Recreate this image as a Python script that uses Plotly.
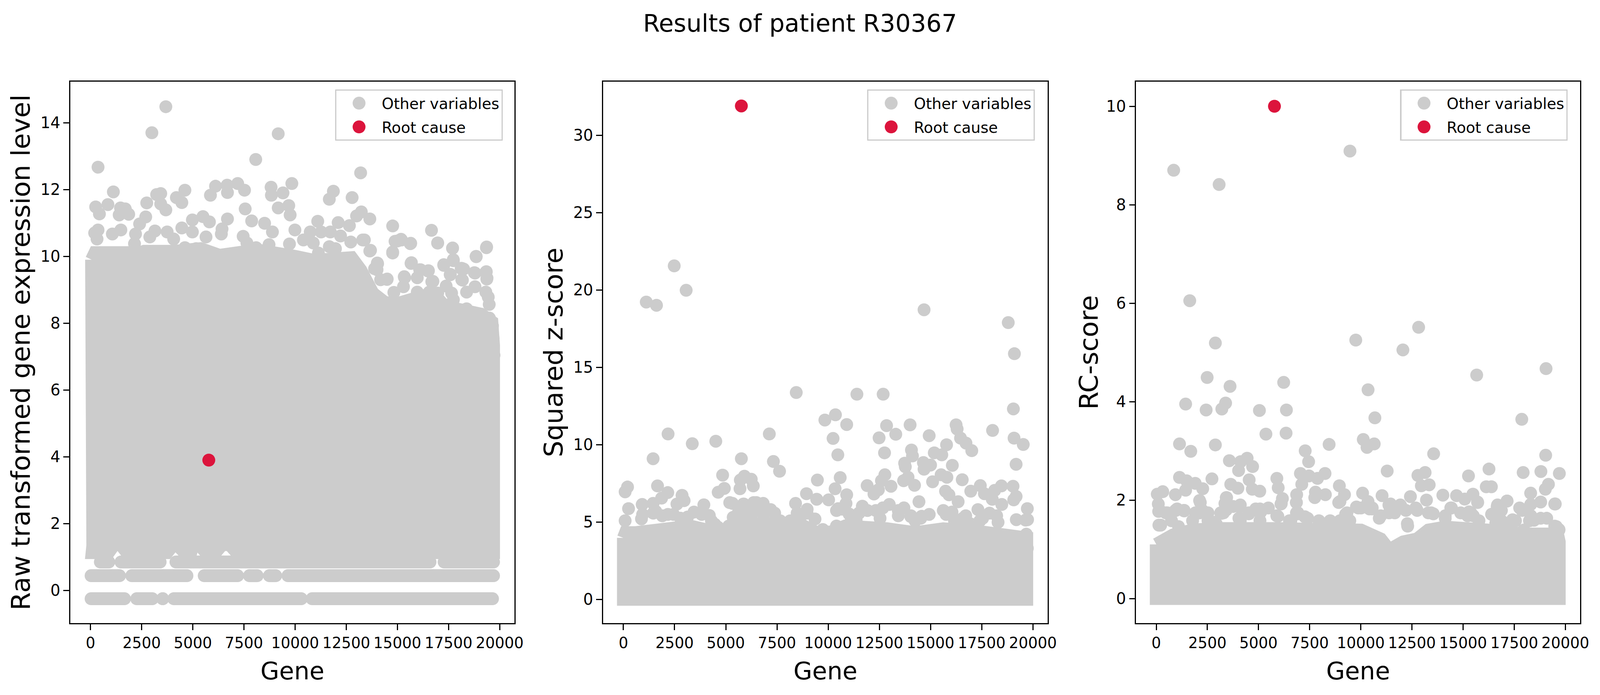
import plotly.graph_objects as go

TITLE = "Results of patient R30367"
X_TICKS = [0, 2500, 5000, 7500, 10000, 12500, 15000, 17500, 20000]
Y_TITLES = ["Raw transformed gene expression level", "Squared z-score", "RC-score"]
Y_TICKS = [[0, 2, 4, 6, 8, 10, 12, 14], [0, 5, 10, 15, 20, 25, 30], [0, 2, 4, 6, 8, 10]]
SERIES_NAMES = ["Other variables", "Root cause"]

ROOT_X = [5780, 5761, 5778]
ROOT_Y = [3.9, 31.9, 10.0]

# Panel 1: separated genes
P1_X = [3680,2997,9174,8075,366,13203,9840,7193,6110,6677,4612,8825,11871,1115,3430,3230,7526,5861,8841,9407,6693,12787,11672,4196,4462,2747,849,250,433,1465,1698,1865,1399,3430,3680,7560,9174,9690,9757,13237,13004,13653,2697,4978,5495,5811,6693,8508,7876,11106,12105,12654,14769,16667,16966,15202,15651,14885,14769,17699,19364,18848,17732,17266,18149,14019,15685,16134,16517,18765,19347,19381,18149,17582,14502,15335,16683,13886,13686,10739,10406,11272,11722,12221,9990,8891,6427,7460,3746,3147,2897,4462,4978,2198,2148,200,366,316,1066,1482,2398,4063,5644,6394,7643,8092,8725,9724,10889,12721,13303,11672,11972,11139,4612,5162,
      13386,13651,14033,14004,14180,14492,14768,15003,15179,15632,16972,17696,17737,17267,18854,19353,15667,16091,16502,15356,15297,14827,15973,16737,17590,18119,18237,18178,17384,17649,17737,18383,18795,19324,19371,19324,19442,19489,19500,19648,19677,19724,18795,16972,16561,15973,15326,18383]
P1_Y = [14.48,13.7,13.67,12.9,12.67,12.5,12.18,12.18,12.1,12.13,11.98,12.07,11.95,11.93,11.88,11.85,11.98,11.83,11.83,11.9,11.91,11.76,11.71,11.76,11.61,11.6,11.55,11.48,11.27,11.45,11.42,11.26,11.24,11.57,11.39,11.42,11.45,11.52,11.24,11.33,11.21,11.12,11.18,11.09,11.19,11.03,11.12,10.99,11.06,11.05,11.01,10.92,10.91,10.78,10.4,10.49,10.39,10.45,10.13,10.25,10.28,10.0,9.9,9.75,9.64,9.8,9.81,9.6,9.57,9.51,9.54,9.35,9.3,9.45,9.32,9.39,9.24,9.63,10.18,10.73,10.49,10.73,10.73,10.61,10.79,10.73,10.82,10.6,10.73,10.76,10.58,10.85,10.73,10.67,10.38,10.7,10.79,10.52,10.67,10.79,10.97,10.52,10.58,10.67,10.4,10.26,10.35,10.37,10.4,10.43,10.49,10.29,10.23,10.1,10.26,10.23,
      10.49,10.16,9.78,9.6,9.3,9.31,10.1,10.46,10.51,10.38,10.4,10.24,9.87,9.73,9.99,10.26,9.79,9.6,9.56,9.36,9.09,8.92,9.36,9.25,9.46,9.64,9.62,9.29,9.11,8.9,8.7,8.93,9.5,9.52,9.32,8.93,8.78,8.56,8.15,7.92,7.55,7.04,9.09,8.9,8.93,8.93,8.58,8.43]
P1_CLOUD_X = [50,123,215,2429,2614,4089,5381,6303,8148,9993,10915,12760,13210,13798,14386,14974,15562,16737,17325,17913,18501,19089,19618,19700,19700,16600,7150,6800,6430,6100,5650,5300,5000,4900,4600,4225,4050,3735,1783,1470,1155,877,75,110,110,75,110,60,100,75,90,30,30,50,83,50]
P1_CLOUD_Y = [9.9,9.99,10.11,10.11,10.15,10.15,10.23,10.03,10.19,10.0,9.88,9.96,9.59,8.9,8.62,8.58,8.66,8.9,8.5,8.39,8.31,8.27,8.04,7.34,1.13,1.13,1.13,1.37,1.37,1.13,1.13,1.37,1.37,1.13,1.13,1.37,1.37,1.13,1.13,1.37,1.37,1.13,1.13,1.34,1.7,2.06,2.59,3.2,3.7,3.9,4.5,5.0,7.0,8.6,9.4,9.9]
P1_ROW_X = [479,891,None,1490,3401,None,4175,16595,None,17285,19700,None,
            26,1414,None,2013,4712,None,5556,7188,None,7767,8144,None,8743,9050,None,9650,19700,None,
            26,1658,None,2257,3018,None,3527,3527,None,4071,10300,None,10830,19650]
P1_ROW_Y = [0.85,0.85,None,0.85,0.85,None,0.85,0.85,None,0.85,0.85,None,
            0.44,0.44,None,0.44,0.44,None,0.44,0.44,None,0.44,0.44,None,0.44,0.44,None,0.44,0.44,None,
            -0.25,-0.25,None,-0.25,-0.25,None,-0.25,-0.25,None,-0.25,-0.25,None,-0.25,-0.25]

# Panel 2
P2_X = [2481,3064,1116,1615,14685,18798,19098,8442,11405,12687,19048,10356,9840,10906,12854,14003,16250,16300,18032,7126,2181,13303,14935,12488,10240,16467,19081,4512,3363,16733,15784,19530,17016,14069,14119,15185,15551,10473,12754,1449,5761,7326,7626,14652,15002,14685,13736,13770,16067,19181,4845,5911,12771,15518,15801,13903,10589,6244,9474,16550,5711,12604,13686,15102,6344,1665,11905,200,14219,13070,19031,18465,17433,10340,5694,4928,12454,15734,16967,83,2165,4629,18132,2864,8941,10906,17632,12238,19181,15901,2964,1865,9441,10023,14436,16350,19065,18015,6361,1449,5328,5861,6827,8408,916,2614,3929,10873,11671,12987,18482,250,10489,7193,8974,19730,17316,3447,1582,11022,17882,16050,4196,882,5361,14569,11239,14036,83,9357,19647,4462,4612,5145,10406,16933,9740,19680,19730,
      2173,2790,5398,6839,7731,8143,8624,11368,14251,15624,16241,16721,18300,17408,14045,13427,12329,12535,11094,5604,6359,6084,7388,6702,6153,5192,5878,6496,
      938,1459,1898,2447,3134,3820,4300,5398,6085,7114,7663,8486,8967,10408,10682,11163,11506,11918,12672,13427,13702,14525,14937,15760,16172,16584,17545,18231,19192,19741]
P2_Y = [21.56,19.98,19.22,19.01,18.72,17.89,15.88,13.37,13.26,13.26,12.31,11.93,11.59,11.3,11.23,11.28,11.28,11.01,10.92,10.69,10.69,10.67,10.58,10.44,10.4,10.42,10.42,10.22,10.06,10.1,9.99,10.01,9.61,9.65,9.27,9.47,9.34,9.34,9.47,9.09,9.09,8.91,8.28,8.84,8.68,8.41,8.8,8.57,8.66,8.73,8.03,7.96,8.05,8.05,7.89,7.89,7.87,7.76,7.71,7.73,7.71,7.67,7.67,7.6,7.33,7.33,7.35,7.26,7.37,7.31,7.31,7.33,7.35,7.15,7.15,7.17,7.08,6.99,6.99,6.95,6.9,6.92,7.04,6.72,6.83,6.76,6.83,6.81,6.65,6.76,6.38,6.54,6.47,6.43,6.31,6.31,6.43,6.47,6.25,6.2,6.2,6.16,6.2,6.2,6.13,6.16,6.11,6.2,6.02,6.13,6.13,5.86,5.86,5.8,5.82,5.86,5.8,5.64,5.68,5.52,5.57,5.64,5.42,5.2,5.3,5.37,5.23,5.35,5.08,5.19,5.12,4.85,4.67,4.74,4.74,4.89,4.51,4.21,3.3,
      5.49,5.24,5.07,5.49,4.98,5.07,5.03,5.15,5.07,5.74,5.07,5.4,4.98,5.07,5.4,5.74,5.74,5.24,4.98,5.57,5.66,5.57,5.57,5.91,5.99,6.25,6.16,6.25,
      5.49,5.57,5.4,5.49,5.32,5.49,5.07,5.24,5.4,5.74,5.07,5.57,5.57,5.74,5.83,5.4,5.57,5.74,5.91,5.4,5.91,5.24,5.49,5.49,5.07,5.24,5.24,5.4,5.15,5.15]
P2_CLOUD_X = [0,100,600,1100,1900,3270,3960,4850,5050,6000,7390,8760,9450,10130,10820,11500,12880,14250,15620,17000,18370,19350,19700,19700,0,0]
P2_CLOUD_Y = [3.97,4.31,4.31,4.39,4.69,4.73,4.52,3.89,4.56,4.9,4.9,4.77,4.31,4.35,4.73,4.73,4.56,4.31,4.56,4.44,4.23,4.23,3.97,0,0,3.97]

# Panel 3
P3_X = [9469,852,3073,1637,12826,9753,2889,12057,19055,15665,6229,2488,3607,10354,1436,3390,3206,2438,5043,6363,10688,17869,5361,6346,10120,8450,10655,10304,1136,2889,1687,7281,13560,19038,7448,3574,4442,4125,4709,4025,11289,16266,7047,8250,17936,18804,19706,13143,12792,15264,7465,1136,1486,5895,7882,2722,4542,1904,3641,7114,8951,19172,16133,16383,12959,13343,2271,3991,5962,1436,317,4693,5060,7782,19021,50,935,3440,6864,10087,8267,9202,11039,12425,14011,14679,15481,13210,18303,15080,15715,2154,100,3357,4075,6112,6847,7749,8918,11373,11957,17151,19506,16683,18303,12709,14429,15381,935,1353,2438,1937,117,3190,4526,5110,5945,6914,9285,9786,10538,13544,16416,17886,17418,18470,19088,217,19556,19689,2939,12291,
      540,1020,1363,2118,3285,4040,4520,5069,5892,6510,6922,7402,7951,8500,8980,9255,9873,10421,10970,11657,12275,12686,13441,14127,14402,15226,15775,16461,16941,17422,17970,18314,19480,19686,
      197,128,471,952,1363,2255,2530,1912,1089,746,2118,3765,4108,3148,3422,3422,6167,6098,6853,8981,10353,11451,11932,12686,15706,14402,15294,16392,16667,17147,16873,17765,18794,19480,9324,10010,10559,5481,4863,5069,4108,6853,7265,6579,8638,9461,10902,11383,12206,12755,13304,14127,14882,15500,16873,17559,18794,18245,16598,1775,2873,5069,2530]
P3_Y = [9.09,8.7,8.41,6.05,5.51,5.25,5.19,5.05,4.67,4.54,4.39,4.49,4.31,4.24,3.95,3.97,3.85,3.83,3.82,3.83,3.67,3.64,3.34,3.36,3.23,3.13,3.14,3.07,3.14,3.12,2.99,3.0,2.94,2.91,2.78,2.8,2.85,2.78,2.68,2.6,2.59,2.63,2.54,2.54,2.56,2.58,2.54,2.56,2.5,2.49,2.49,2.46,2.39,2.44,2.44,2.43,2.41,2.34,2.32,2.32,2.29,2.32,2.27,2.27,2.29,2.31,2.23,2.24,2.25,2.2,2.17,2.22,2.18,2.16,2.22,2.12,2.11,2.05,2.11,2.14,2.11,2.11,2.09,2.07,2.1,2.09,2.12,2.0,2.14,2.02,1.95,1.95,1.92,1.93,1.86,1.93,1.95,2.05,1.95,1.9,1.88,1.98,1.92,1.9,1.91,1.83,1.84,1.74,1.79,1.79,1.73,1.72,1.77,1.73,1.72,1.76,1.67,1.72,1.71,1.86,1.82,1.72,1.71,1.79,1.6,1.59,1.63,1.49,1.46,1.4,1.51,1.47,
      1.74,1.82,1.79,1.74,1.74,1.63,1.74,1.82,1.68,1.58,1.74,1.63,1.58,1.58,1.58,1.71,1.84,1.82,1.68,1.74,1.52,1.82,1.74,1.68,1.84,1.68,1.58,1.71,1.55,1.55,1.39,1.68,1.47,1.39,
      1.78,1.49,1.74,1.79,1.78,1.79,1.74,1.74,1.46,1.58,1.99,1.87,1.9,1.74,1.8,2.05,2.03,1.92,1.95,1.97,1.97,1.92,1.9,1.84,1.96,1.84,1.76,1.71,1.87,1.98,1.79,1.84,1.96,1.92,1.74,1.84,1.84,1.84,1.82,1.74,1.58,1.74,1.66,1.58,1.53,1.58,1.63,1.74,1.79,1.79,1.74,1.63,1.74,1.68,1.58,1.58,1.63,1.58,1.53,1.58,1.55,1.58,1.58]
P3_CLOUD_X = [0,814,1775,2873,5892,8638,10010,10970,11383,12069,12755,13304,14127,16873,17970,19618,19700,19700,0,0]
P3_CLOUD_Y = [1.1,1.29,1.39,1.42,1.42,1.42,1.39,1.21,0.99,1.15,1.21,1.39,1.45,1.37,1.31,1.31,1.15,0,0,1.1]

POINTS_X = [P1_X, P2_X, P3_X]
POINTS_Y = [P1_Y, P2_Y, P3_Y]
CLOUDS_X = [P1_CLOUD_X, P2_CLOUD_X, P3_CLOUD_X]
CLOUDS_Y = [P1_CLOUD_Y, P2_CLOUD_Y, P3_CLOUD_Y]

# Layout: the browser window is 4096 wide, so reference x pixels are scaled by the domain fractions.
W_REF, W, H = 4435, 4096, 1779
GRAY, RED = "#CCCCCC", "#DC143C"
MS = 33
FONT = "DejaVu Sans"
PANELS_PX = [(195, 1426), (1672, 2904), (3149, 4380)]
TOP_PX, BOTTOM_PX = 209, 1595
X_RANGE = [-988, 20723]
Y_RANGES = [[-0.98, 15.23], [-1.54, 33.47], [-0.5, 10.5]]
LEGEND_LEFT_PX = [929, 2404, 3881]
STANDOFF_Y = [6, 6, 0]

fig = go.Figure()
for i in range(3):
    suf = "" if i == 0 else str(i + 1)
    xa, ya = "x" + suf, "y" + suf
    lg = "legend" + suf
    fig.add_trace(go.Scatter(x=CLOUDS_X[i], y=CLOUDS_Y[i], mode="lines", fill="toself", fillcolor=GRAY,
                             line=dict(color=GRAY, width=MS), showlegend=False, hoverinfo="skip",
                             xaxis=xa, yaxis=ya, name="Other variables (dense)"))
    if i == 0:
        fig.add_trace(go.Scatter(x=P1_ROW_X, y=P1_ROW_Y, mode="lines+markers",
                                 marker=dict(color=GRAY, size=MS, line=dict(width=0)),
                                 line=dict(color=GRAY, width=MS), showlegend=False, hoverinfo="skip",
                                 xaxis=xa, yaxis=ya, name="Other variables (rows)"))
    fig.add_trace(go.Scatter(x=POINTS_X[i], y=POINTS_Y[i], mode="markers", name=SERIES_NAMES[0],
                             marker=dict(color=GRAY, size=MS, line=dict(width=0)),
                             xaxis=xa, yaxis=ya, legend=lg, legendgroup=f"other{i}"))
    fig.add_trace(go.Scatter(x=[ROOT_X[i]], y=[ROOT_Y[i]], mode="markers", name=SERIES_NAMES[1],
                             marker=dict(color=RED, size=MS, line=dict(width=0)),
                             xaxis=xa, yaxis=ya, legend=lg, legendgroup=f"root{i}"))
    l, r = PANELS_PX[i]
    common = dict(showgrid=False, zeroline=False, showline=True, mirror=True, linecolor="black", linewidth=3.2,
                  ticks="outside", ticklen=14.6, tickwidth=3.2, tickcolor="black", automargin=False)
    fig.update_layout({
        "xaxis" + suf: dict(domain=[l / W_REF, r / W_REF], anchor=ya, range=X_RANGE, tickmode="array",
                            tickvals=X_TICKS, ticktext=[str(v) for v in X_TICKS], tickangle=0,
                            tickfont=dict(family=FONT, size=38.5, color="black"),
                            title=dict(text="Gene", font=dict(family=FONT, size=62, color="black"), standoff=29), **common),
        "yaxis" + suf: dict(domain=[1 - BOTTOM_PX / H, 1 - TOP_PX / H], anchor=xa, range=Y_RANGES[i], tickmode="array",
                            tickvals=Y_TICKS[i], ticktext=[str(v) for v in Y_TICKS[i]],
                            tickfont=dict(family=FONT, size=40, color="black"),
                            title=dict(text=Y_TITLES[i], font=dict(family=FONT, size=66.7, color="black"), standoff=STANDOFF_Y[i]), **common),
        lg: dict(x=LEGEND_LEFT_PX[i] / W_REF, y=1 - 229 / H, xanchor="left", yanchor="top",
                 bgcolor="rgba(255,255,255,0.8)", bordercolor="#CCCCCC", borderwidth=3.2,
                 itemwidth=106, itemsizing="trace", font=dict(family=FONT, size=39, color="black"),
                 traceorder="grouped", tracegroupgap=7, entrywidth=315, entrywidthmode="pixels"),
    })

fig.update_layout(
    width=W, height=H, margin=dict(l=0, r=0, t=0, b=0), autosize=False,
    paper_bgcolor="white", plot_bgcolor="white",
    title=dict(text=TITLE, x=0.5, xref="paper", xanchor="center", y=1 - 59 / H, yanchor="middle",
               font=dict(family=FONT, size=62, color="black")),
    showlegend=True,
)

# Plotly caps legend glyphs at 16 px, so scale them up to the marker size of the plot.
POST = """
document.body.style.margin = '0';
document.querySelectorAll('.legendpoints path').forEach(function (p) {
  var t = p.getAttribute('transform') || '';
  p.setAttribute('transform', t + ' scale(%s)');
});
""" % (MS / 16)

fig.write_html("out.html", post_script=POST, config=dict(displayModeBar=False))
